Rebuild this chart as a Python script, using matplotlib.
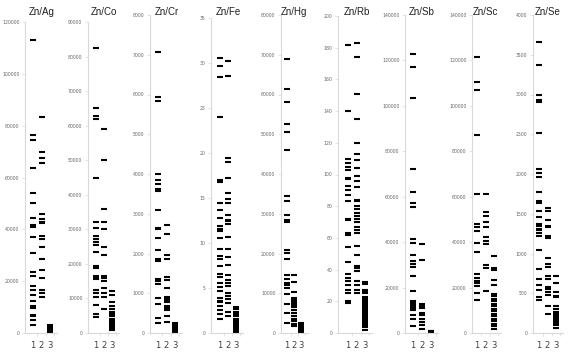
import matplotlib
matplotlib.use('Agg')
import matplotlib.pyplot as plt

# panel names and y ranges
names = ['Zn/Ag', 'Zn/Co', 'Zn/Cr', 'Zn/Fe', 'Zn/Hg', 'Zn/Rb', 'Zn/Sb', 'Zn/Sc', 'Zn/Se']
ymax = [120000, 90000, 8000, 35, 80000, 200, 140000, 140000, 4000]
ystep = [20000, 10000, 1000, 5, 10000, 20, 20000, 20000, 500]
xlabels = ['1', '2', '3']

ag1 = [113000, 76500, 74500, 63500, 54000, 50000, 44500, 41600, 41000, 37000, 31000, 23500, 22000,
       18000, 16500, 14500, 12500, 10500, 9500, 7000, 6500, 5000, 3000]
ag2 = [83500, 70000, 67500, 65500, 45800, 44100, 43000, 42500, 37400, 36200, 33000, 28700, 24300,
       21400, 16500, 15300, 13700]
ag3 = [3000, 2500, 2000, 1500, 1200, 1000, 800, 600, 400, 200]

co1 = [82600, 65000, 62800, 61900, 44900, 32100, 30500, 28100, 27100, 26200, 25400, 23500, 19400,
       18700, 16400, 15800, 15500, 12500, 11500, 10300, 8100, 5500, 4500]
co2 = [59000, 50200, 36000, 32100, 30200, 25000, 22500, 16400, 15800, 15100, 12900, 11500, 10300, 7000]
co3 = [12200, 11000, 9000, 7900, 6900, 6100, 5500, 4800, 4000, 3500, 3100, 2600, 2100, 1400, 1000]

cr1 = [7080, 5930, 5830, 3990, 3840, 3750, 3620, 3580, 3100, 2650, 2620, 2400, 2100, 1850, 1800,
       1350, 1300, 1230, 870, 720, 380, 250]
cr2 = [2720, 2490, 1960, 1860, 1400, 1330, 1140, 910, 870, 830, 790, 680, 640, 590, 440, 280]
cr3 = [260, 230, 200, 170, 150, 120, 100, 80, 60, 40, 20]

fe1 = [30.6, 29.7, 28.4, 24.0, 17.0, 16.8, 14.4, 13.7, 12.8, 11.9, 11.6, 11.3, 10.6, 9.3, 8.6, 8.2,
       7.4, 6.6, 6.2, 5.6, 5.1, 4.7, 3.9, 3.6, 3.4, 3.0, 2.6, 2.1, 1.6]
fe2 = [30.2, 28.6, 19.4, 19.0, 17.2, 15.6, 14.9, 14.4, 13.1, 12.6, 12.4, 12.1, 10.7, 9.3, 8.4,
       7.6, 6.4, 5.9, 5.6, 5.2, 4.5, 4.1, 3.8, 3.3, 2.3, 1.9]
fe3 = [2.9, 2.7, 2.3, 2.1, 1.9, 1.6, 1.4, 1.2, 1.0, 0.8, 0.6, 0.5, 0.4, 0.3, 0.2, 0.1]

hg1 = [69000, 61500, 58000, 52500, 50500, 46000, 34500, 33200, 29800, 28400, 27900, 21000, 20200,
       18500, 14500, 13700, 12700, 12000, 11200, 9700, 7400, 5000, 2500]
hg2 = [14500, 12800, 10200, 8900, 8500, 8000, 7600, 7100, 6600, 5900, 5000, 4200, 3600, 3000, 2300, 1700]
hg3 = [2500, 2300, 2000, 1800, 1500, 1300, 1000, 800, 600, 400, 200, 100]

rb1 = [182, 140, 110, 107, 105, 103, 98, 97, 93, 90, 87, 83, 72, 71, 63, 62, 54, 45, 37, 35, 33,
       30, 27, 25, 20, 19]
rb2 = [183, 174, 151, 135, 120, 113, 109, 104, 99, 96, 92, 84, 83, 80, 78, 76, 74, 72, 70, 67, 65,
       63, 55, 49, 42, 41, 39, 33, 30, 27, 25]
rb3 = [32, 31, 27, 26, 25, 23, 22, 21, 20, 19, 18, 17, 16, 15, 14, 13, 12, 11, 10, 9, 8, 7, 6, 5, 4, 2]

sb1 = [123000, 117000, 103500, 72000, 62000, 57200, 55300, 41400, 39700, 34400, 31900, 30400, 29000,
       25300, 18700, 14300, 13600, 12800, 11800, 11000, 10300, 7800, 6000, 3100]
sb2 = [39200, 32300, 12900, 11900, 11000, 8900, 8000, 6000, 4800, 3700, 1900]
sb3 = [1000, 700, 500, 300]

sc1 = [121600, 110500, 107000, 87000, 61200, 48000, 46500, 45000, 39600, 35500, 26000, 24000, 23000,
       22000, 20600, 17700, 14600]
sc2 = [61200, 53100, 51600, 49000, 46500, 42100, 40700, 39200, 30100, 28600, 18300]
sc3 = [33800, 28500, 27900, 23400, 21200, 17300, 16200, 15100, 13900, 12900, 11900, 10700, 9500,
       8500, 7500, 6300, 5100, 4100, 3100, 1900]

se1 = [3660, 3370, 3000, 2930, 2910, 2510, 2060, 2010, 1960, 1770, 1665, 1630, 1530, 1465, 1370,
       1345, 1310, 1290, 1255, 1215, 1040, 800, 675, 600, 535, 450, 420]
se2 = [1570, 1530, 1420, 1350, 1330, 1225, 1195, 940, 870, 830, 715, 680, 575, 550, 520, 480, 340, 240]
se3 = [715, 630, 520, 470, 450, 340, 305, 270, 240, 220, 200, 180, 160, 140, 115, 95, 65]

series = [(ag1, ag2, ag3), (co1, co2, co3), (cr1, cr2, cr3), (fe1, fe2, fe3), (hg1, hg2, hg3),
          (rb1, rb2, rb3), (sb1, sb2, sb3), (sc1, sc2, sc3), (se1, se2, se3)]

# layout in pixels: y axis position, column 1 and column 3 position, top of plot, zero line
W, H = 580, 360
axis_px = [25, 88, 150, 211, 281, 338, 405, 472, 533]
c1_px = [33, 96, 158, 220, 287, 348, 413, 477, 539]
c3_px = [50, 112, 175, 236, 301, 365, 431, 494, 556]
top_px = [22, 22, 15, 18, 15, 16, 15, 15, 15]
zero_px = 333

fig = plt.figure(figsize=(5.8, 3.6), dpi=100)
fig.patch.set_facecolor('white')
grey = '#d9d9d9'

for i in range(len(names)):
    s = (c3_px[i] - c1_px[i]) / 2.0
    x0 = 1 - (c1_px[i] - axis_px[i]) / s
    x1 = 3 + 7.0 / s
    left = axis_px[i] / W
    width = (x1 - x0) * s / W
    bottom = (H - zero_px) / H
    height = (zero_px - top_px[i]) / H
    ax = fig.add_axes([left, bottom, width, height])
    for k, vals in enumerate(series[i]):
        ax.plot([k + 1] * len(vals), vals, linestyle='none', marker='_',
                markersize=4.4, markeredgewidth=1.5, color='black')
    ax.set_xlim(x0, x1)
    ax.set_ylim(0, ymax[i])
    ticks = [t * ystep[i] for t in range(int(round(ymax[i] / ystep[i])) + 1)]
    ax.set_yticks(ticks)
    ax.set_yticklabels([str(t) for t in ticks])
    ax.set_xticks([1, 2, 3])
    ax.set_xticklabels(xlabels)
    ax.set_xticks([1.5, 2.5, 3.5], minor=True)
    for sp in ['top', 'right']:
        ax.spines[sp].set_visible(False)
    ax.spines['left'].set_color(grey)
    ax.spines['bottom'].set_color(grey)
    ax.spines['left'].set_linewidth(0.8)
    ax.spines['bottom'].set_linewidth(0.8)
    ax.tick_params(axis='y', labelsize=3.3, labelcolor='#666666', color=grey, length=2, width=0.5, pad=2)
    ax.tick_params(axis='x', which='major', labelsize=6, length=0, pad=6, labelcolor='#404040')
    ax.tick_params(axis='x', which='minor', length=2, width=0.5, color=grey)
    ax.set_facecolor('none')
    # title sits above column 2
    fig.text((c1_px[i] + c3_px[i]) / 2.0 / W, 1 - 12.0 / H, names[i], ha='center', va='center',
             fontsize=7, family='Liberation Sans', color='#202020')

fig.savefig('out.png', dpi=100, facecolor='white')
